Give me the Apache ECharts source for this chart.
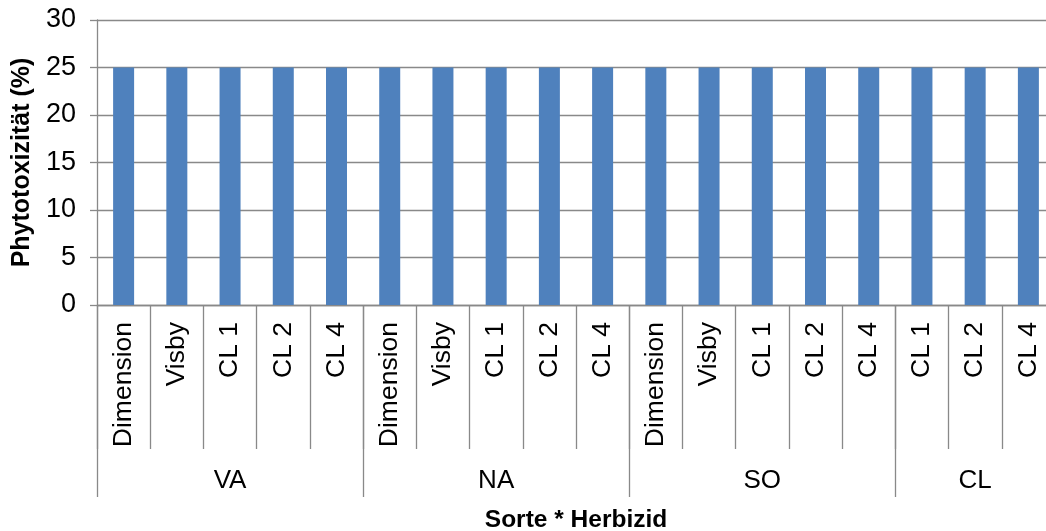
<!DOCTYPE html>
<html>
<head>
<meta charset="utf-8">
<script src="https://cdn.jsdelivr.net/npm/echarts@6/dist/echarts.min.js"></script>
<style>
  html, body { margin: 0; padding: 0; background: #fff; }
  #chart { width: 1046px; height: 531px; }
</style>
</head>
<body>
<div id="chart"></div>
<script>
// herbicide per category (inner axis)
var herbizid = ['Dimension', 'Visby', 'CL 1', 'CL 2', 'CL 4',
                'Dimension', 'Visby', 'CL 1', 'CL 2', 'CL 4',
                'Dimension', 'Visby', 'CL 1', 'CL 2', 'CL 4',
                'CL 1', 'CL 2', 'CL 4'];
// variety groups (outer axis) and how many bars each has
var sorten = ['VA', 'NA', 'SO', 'CL'];
var sortenCount = [5, 5, 5, 3];
// phytotoxicity values
var phyto = [25, 25, 25, 25, 25,
             25, 25, 25, 25, 25,
             25, 25, 25, 25, 25,
             25, 25, 25];

var font = 'Liberation Sans, Arial, sans-serif';
var grey = '#898989';

// outer axis: one entry per bar, holding its group name
var groupData = [];
var groupStart = [];
var groupMid = [];
var pos = 0;
sorten.forEach(function (s, i) {
  groupStart.push(pos);
  groupMid.push(pos + Math.floor(sortenCount[i] / 2));
  for (var k = 0; k < sortenCount[i]; k++) groupData.push(s);
  pos += sortenCount[i];
});

var myChart = echarts.init(document.getElementById('chart'));
var option = {
  animation: false,
  grid: { left: 97, right: -9, top: 20, bottom: 226, containLabel: false, outerBoundsMode: 'none' },
  xAxis: [
    {
      type: 'category',
      data: herbizid,
      axisLine: { lineStyle: { color: grey, width: 1.3 } },
      axisTick: { show: true, interval: 0, length: 144, lineStyle: { color: grey, width: 1.3 } },
      axisLabel: {
        rotate: 90, margin: 17, interval: 0,
        color: '#000', fontFamily: font, fontSize: 26.5
      }
    },
    {
      type: 'category',
      data: groupData,
      position: 'bottom',
      axisLine: { show: false },
      axisTick: {
        show: true,
        length: 192,
        interval: function (idx) { return groupStart.indexOf(idx) >= 0; },
        lineStyle: { color: grey, width: 1.3 }
      },
      axisLabel: {
        margin: 163,
        interval: function (idx) { return groupMid.indexOf(idx) >= 0; },
        color: '#000', fontFamily: font, fontSize: 26
      },
      name: 'Sorte * Herbizid',
      nameLocation: 'middle',
      nameGap: 203,
      nameTextStyle: { color: '#000', fontFamily: font, fontSize: 24.5, fontWeight: 'bold' }
    }
  ],
  yAxis: {
    type: 'value',
    min: 0, max: 30, interval: 5,
    name: 'Phytotoxizität (%)',
    nameLocation: 'middle',
    nameRotate: 90,
    nameGap: 61,
    nameTextStyle: { color: '#000', fontFamily: font, fontSize: 25, fontWeight: 'bold' },
    axisLine: { show: true, lineStyle: { color: grey, width: 1.3 } },
    axisTick: { show: true, length: 7, lineStyle: { color: grey, width: 1.3 } },
    axisLabel: { margin: 21, color: '#000', fontFamily: font, fontSize: 27 },
    splitLine: { lineStyle: { color: grey, width: 1.3 } }
  },
  series: [
    {
      type: 'bar',
      data: phyto,
      xAxisIndex: 0,
      barWidth: 21,
      itemStyle: { color: '#4F81BD' }
    }
  ]
};
myChart.setOption(option);
window.onresize = myChart.resize;
</script>
</body>
</html>
